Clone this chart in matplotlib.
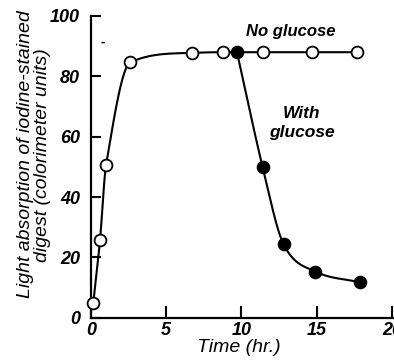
import numpy as np
import matplotlib
matplotlib.use("Agg")
import matplotlib.pyplot as plt

# time (hr.) and light absorption readings
t_none = [0.15, 0.6, 1.0, 2.6, 6.7, 8.8, 11.4, 14.7, 17.7]
a_none = [4.8, 25.7, 50.6, 84.6, 87.8, 88.0, 88.0, 88.0, 88.0]
t_gluc = [9.7, 11.4, 12.8, 14.9, 17.9]
a_gluc = [88.0, 50.0, 24.3, 15.3, 11.7]

xticks = [0, 5, 10, 15, 20]
yticks = [0, 20, 40, 60, 80, 100]


def smooth(x, y, n=300):
    # cubic hermite through the points, slopes limited so it never overshoots
    x = np.asarray(x, float)
    y = np.asarray(y, float)
    h = np.diff(x)
    d = np.diff(y) / h
    m = np.empty_like(y)
    m[0], m[-1] = d[0], d[-1]
    m[1:-1] = (y[2:] - y[:-2]) / (x[2:] - x[:-2])
    for k in range(len(d)):
        if d[k] == 0:
            m[k] = m[k + 1] = 0
            continue
        a, b = m[k] / d[k], m[k + 1] / d[k]
        if a < 0:
            m[k] = 0
        if b < 0:
            m[k + 1] = 0
        s = a * a + b * b
        if s > 9:
            tau = 3 / np.sqrt(s)
            m[k] = tau * a * d[k]
            m[k + 1] = tau * b * d[k]
    xs = np.linspace(x[0], x[-1], n)
    i = np.clip(np.searchsorted(x, xs) - 1, 0, len(h) - 1)
    t = (xs - x[i]) / h[i]
    h00 = 2 * t**3 - 3 * t**2 + 1
    h10 = t**3 - 2 * t**2 + t
    h01 = -2 * t**3 + 3 * t**2
    h11 = t**3 - t**2
    ys = h00 * y[i] + h10 * h[i] * m[i] + h01 * y[i + 1] + h11 * h[i] * m[i + 1]
    return xs, ys


plt.rcParams["font.family"] = ["Liberation Sans", "DejaVu Sans"]

fig = plt.figure(figsize=(3.94, 3.63), dpi=100)
ax = fig.add_axes([91 / 394, 45.3 / 363, 304 / 394, 301.7 / 363])

xs, ys = smooth(t_none, a_none)
ax.plot(xs, ys, color="k", lw=1.5, clip_on=False)
xs, ys = smooth(t_gluc, a_gluc)
ax.plot(xs, ys, color="k", lw=1.5, clip_on=False)

ax.plot(t_gluc, a_gluc, "o", ms=8.5, mfc="k", mec="k", mew=1.3, clip_on=False, zorder=3)
ax.plot(t_none, a_none, "o", ms=8.5, mfc="white", mec="k", mew=1.3, clip_on=False, zorder=4)

ax.set_xlim(0, 20.2)
ax.set_ylim(0, 100)
ax.spines["top"].set_visible(False)
ax.spines["right"].set_visible(False)
for s in ("left", "bottom"):
    ax.spines[s].set_linewidth(1.6)

ax.set_xticks(xticks)
ax.set_yticks(yticks)
ax.set_xticklabels([str(v) for v in xticks], fontsize=13, style="italic", weight="bold")
ax.set_yticklabels([str(v) for v in yticks], fontsize=13, style="italic", weight="bold")
ax.tick_params(axis="x", direction="in", length=9, width=1.5, pad=3)
ax.tick_params(axis="y", direction="in", length=7, width=1.5, pad=8)

ax.set_xlabel("Time (hr.)", fontsize=14, style="italic")
ax.xaxis.set_label_coords(0.486, -0.072)

# y label drawn as two rotated lines
ax.text(-0.217, 0.543, "Light absorption of iodine-stained", transform=ax.transAxes,
        rotation=90, fontsize=14, style="italic", ha="center", va="center")
ax.text(-0.161, 0.54, "digest (colorimeter units)", transform=ax.transAxes,
        rotation=90, fontsize=14, style="italic", ha="center", va="center")

ax.text(13.3, 95, "No glucose", fontsize=12, style="italic", weight="bold",
        ha="center", va="center")
ax.text(14.0, 64.5, "With\nglucose", fontsize=12.5, style="italic", weight="bold",
        ha="center", va="center", linespacing=1.35)
ax.text(0.8, 91.5, "-", fontsize=10, weight="bold", ha="center", va="center")

fig.savefig("out.png", dpi=100)
plt.close(fig)
